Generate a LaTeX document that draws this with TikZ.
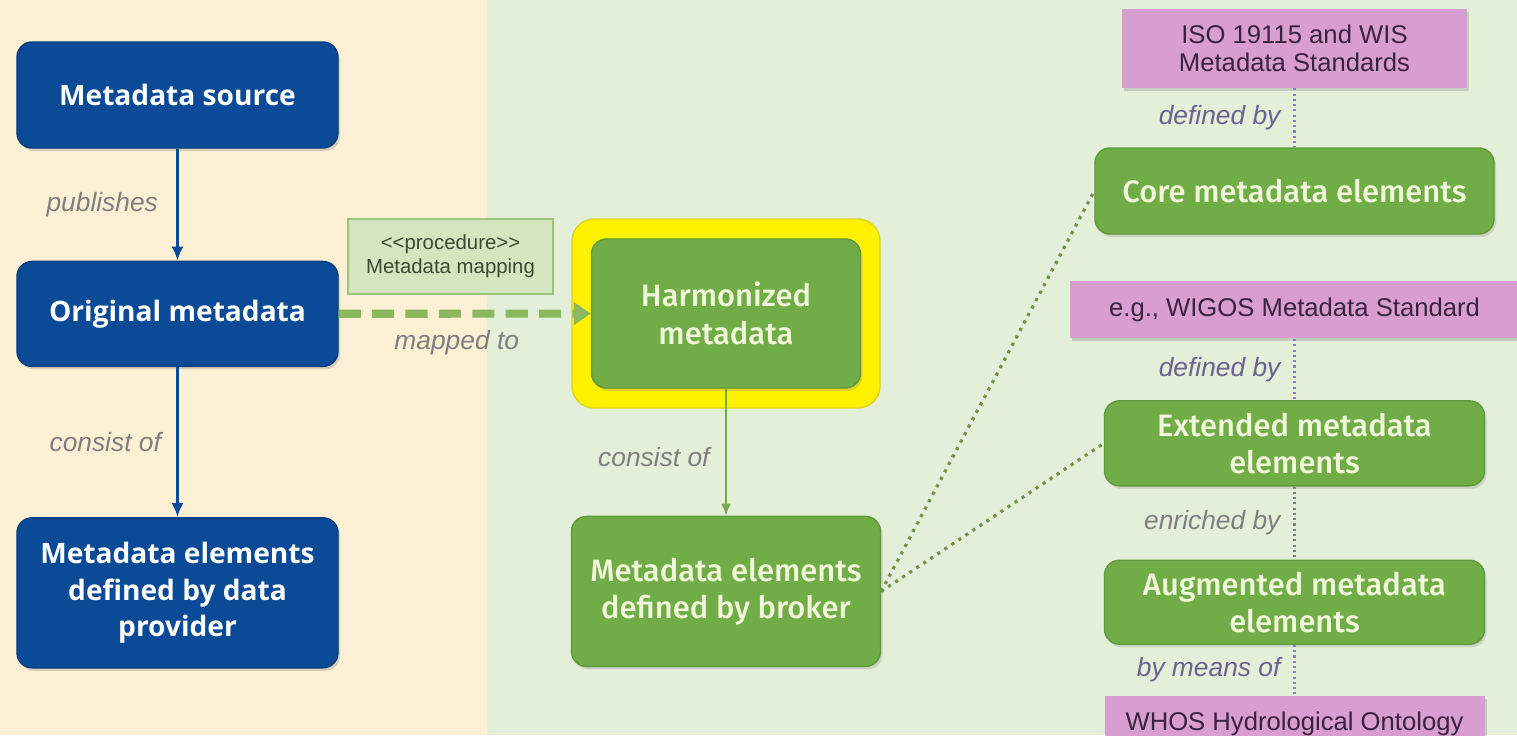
\documentclass[tikz,border=0pt]{standalone}
\usepackage{fontspec}
\setmainfont{Liberation Sans}
\newfontfamily\bluefont{Open Sans}
\newfontfamily\greenfont{Fira Sans Medium}
\usetikzlibrary{arrows.meta,positioning,shadows}

\definecolor{provblue}{HTML}{0A4A96}
\definecolor{provedge}{HTML}{083E7E}
\definecolor{brokgreen}{HTML}{71AD47}
\definecolor{brokedge}{HTML}{5E9A3A}
\definecolor{broktext}{HTML}{F0F7DA}
\definecolor{stdpink}{HTML}{D89ECF}
\definecolor{stdtext}{HTML}{3B2243}
\definecolor{leftbg}{HTML}{FDF0D5}
\definecolor{rightbg}{HTML}{E3EFD9}
\definecolor{procfill}{HTML}{D3E6C0}
\definecolor{procedge}{HTML}{9DC27E}
\definecolor{proctext}{HTML}{3C4833}
\definecolor{mapgreen}{HTML}{8BB85C}
\definecolor{relgray}{HTML}{7F7F7F}
\definecolor{stdlabel}{HTML}{6C6290}
\definecolor{stdline}{HTML}{8C7DC2}

\begin{document}
\begin{tikzpicture}[node distance=1cm,
  every node/.style={font=\fontsize{8}{10}\selectfont},
  provbox/.style={draw=provedge, fill=provblue, rounded corners=0.15cm, align=center, text=white,
    font=\bluefont\bfseries\fontsize{8}{10.3}\selectfont, minimum width=3.21cm,
    drop shadow={shadow xshift=0.02cm, shadow yshift=-0.03cm, opacity=0.3}},
  brokbox/.style={draw=brokedge, fill=brokgreen, rounded corners=0.15cm, align=center, text=broktext,
    font=\greenfont\fontsize{8.8}{10.6}\selectfont, inner ysep=1pt,
    drop shadow={shadow xshift=0.02cm, shadow yshift=-0.03cm, opacity=0.25}},
  stdbox/.style={fill=stdpink, align=center, text=stdtext, inner ysep=1pt,
    font=\fontsize{7.3}{8}\selectfont,
    drop shadow={shadow xshift=0.02cm, shadow yshift=-0.03cm, opacity=0.3}},
  procbox/.style={draw=procedge, fill=procfill, line width=0.8pt, align=center, text=proctext,
    font=\fontsize{5.8}{6.9}\selectfont, minimum width=2.05cm, minimum height=0.75cm},
  glowbox/.style={draw=yellow!85!black, fill=yellow, rounded corners=0.22cm, minimum width=3.08cm, minimum height=1.89cm},
  rel/.style={inner sep=0pt, text=relgray, font=\itshape\fontsize{7.5}{9}\selectfont},
  stdrel/.style={rel, text=stdlabel},
  provflow/.style={draw=provblue, line width=0.9pt, -{Latex[length=0.14cm,width=0.12cm]}},
  brokflow/.style={draw=brokgreen, line width=0.8pt, -{Latex[length=0.12cm,width=0.1cm]}},
  mapflow/.style={draw=mapgreen, line width=2.3pt, dash pattern=on 6.3pt off 3.2pt, -{Triangle[length=0.17cm,width=0.22cm]}},
  elemlink/.style={draw=mapgreen!80!black, line width=0.9pt, dash pattern=on 0.9pt off 1.5pt},
  stdlink/.style={draw=stdline, line width=0.6pt, dash pattern=on 0.6pt off 0.9pt}]

% two zones
\fill[leftbg] (0,0) rectangle (4.87,7.35);
\fill[rightbg] (4.87,0) rectangle (15.17,7.35);
\useasboundingbox (0,0) rectangle (15.17,7.35);

% provider side
\node (source) [provbox, minimum height=1.06cm] at (1.775,6.40) {Metadata source};
\node (original) [provbox, below=1.12cm of source, minimum height=1.05cm] {Original metadata};
\node (provelems) [provbox, below=1.5cm of original, minimum height=1.5cm] {Metadata elements\\defined by data\\provider};

\node (proc) [procbox] at (4.505,4.785) {<\kern0pt<procedure>\kern0pt>\\Metadata mapping};

% broker side
\node (glow) [glowbox] at (7.26,4.215) {};
\node (harmonized) [brokbox, minimum width=2.69cm, minimum height=1.49cm] at (glow) {Harmonized\\metadata};
\node (brokelems) [brokbox, below=1.27cm of harmonized, minimum width=3.09cm, minimum height=1.5cm] {Metadata elements\\defined by broker};

% standards and element sets
\node (core) [brokbox, minimum width=3.99cm, minimum height=0.86cm] at (12.945,5.44) {Core metadata elements};
\node (iso) [stdbox, above=0.59cm of core, minimum width=3.45cm, minimum height=0.79cm] {ISO 19115 and WIS\\Metadata Standards};
\node (wigos) [stdbox, below=0.46cm of core, minimum width=4.5cm, minimum height=0.57cm] {e.g., WIGOS Metadata Standard};
\node (extended) [brokbox, below=0.61cm of wigos, minimum width=3.8cm, minimum height=0.85cm] {Extended metadata\\elements};
\node (augmented) [brokbox, below=0.73cm of extended, minimum width=3.8cm, minimum height=0.84cm] {Augmented metadata\\elements};
\node (whos) [stdbox, below=0.5cm of augmented, minimum width=3.8cm, minimum height=0.57cm] {WHOS Hydrological Ontology};

\draw[provflow] (source) -- node[rel, midway, left=0.18cm] {publishes} (original);
\draw[provflow] (original) -- node[rel, midway, left=0.15cm] {consist of} (provelems);
\draw[mapflow] (original) -- node[rel, midway, below=0.13cm, xshift=-0.08cm] {mapped to} (harmonized);
\draw[brokflow] (harmonized) -- node[rel, midway, left=0.15cm, yshift=-0.05cm] {consist of} (brokelems);

\draw[elemlink] (brokelems.east) -- (core.west);
\draw[elemlink] (brokelems.east) -- (extended.west);

\draw[stdlink] (iso) -- node[stdrel, midway, left=0.13cm] {defined by} (core);
\draw[stdlink] (wigos) -- node[stdrel, midway, left=0.13cm] {defined by} (extended);
\draw[stdlink, draw=relgray] (extended) -- node[rel, midway, left=0.13cm] {enriched by} (augmented);
\draw[stdlink] (augmented) -- node[stdrel, midway, left=0.13cm] {by means of} (whos);
\end{tikzpicture}
\end{document}
